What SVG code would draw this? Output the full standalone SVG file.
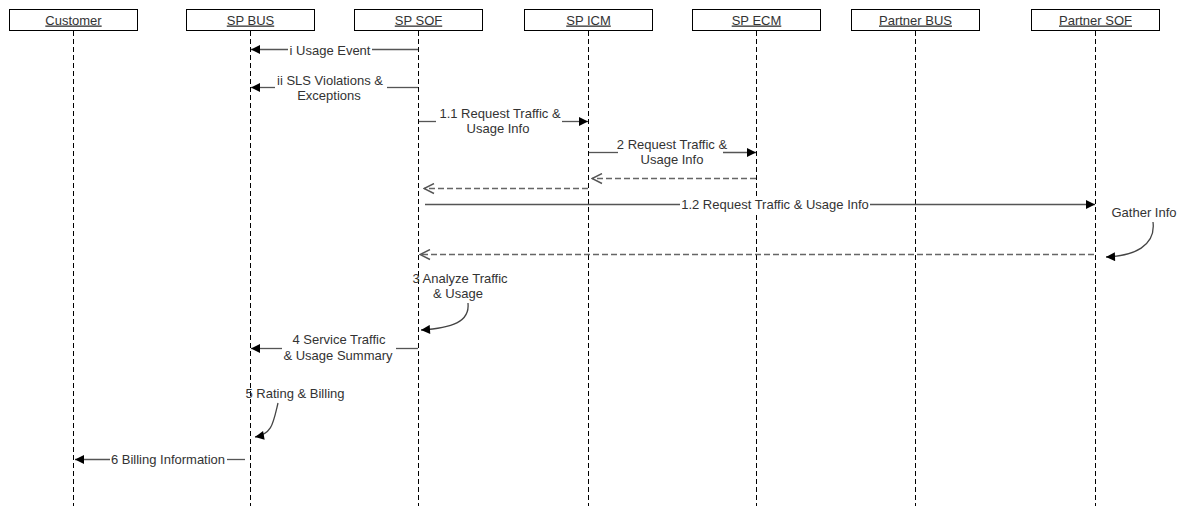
<svg xmlns="http://www.w3.org/2000/svg" width="1184" height="508" viewBox="0 0 1184 508">
<style>
.hdr{fill:#fff;stroke:#000;stroke-width:1}
.ht{font-family:"Liberation Sans",Arial,sans-serif;font-size:13px;fill:#333;text-anchor:middle;text-decoration:underline}
.life{stroke:#000;stroke-width:1;stroke-dasharray:5,3;fill:none}
.t{font-family:"Liberation Sans",Arial,sans-serif;font-size:13px;fill:#333;text-anchor:middle}
.msg{stroke:#555;stroke-width:1.3;fill:none}
.ret{stroke:#666;stroke-width:1.3;fill:none;stroke-dasharray:6,3}
.crv{stroke:#444;stroke-width:1.3;fill:none}
</style>
<defs>
<marker id="block" viewBox="0 0 10 10" refX="10" refY="5" markerWidth="10" markerHeight="9" markerUnits="userSpaceOnUse" orient="auto"><path d="M0,0 L10,5 L0,10 z" fill="#000"/></marker>
<marker id="open" viewBox="0 0 12 12" refX="11" refY="6" markerWidth="12" markerHeight="12" markerUnits="userSpaceOnUse" orient="auto"><path d="M1,1 L11,6 L1,11" fill="none" stroke="#555" stroke-width="1.4"/></marker>
</defs>
<rect width="1184" height="508" fill="#fff"/>

<g id="customer"><rect class="hdr" x="9.5" y="9.5" width="128" height="21"/><text class="ht" x="73.5" y="24.5">Customer</text><line class="life" x1="73.5" y1="31" x2="73.5" y2="506"/></g>
<g id="sp-bus"><rect class="hdr" x="186.5" y="9.5" width="128" height="21"/><text class="ht" x="250.5" y="24.5">SP BUS</text><line class="life" x1="250.5" y1="31" x2="250.5" y2="506"/></g>
<g id="sp-sof"><rect class="hdr" x="354.5" y="9.5" width="128" height="21"/><text class="ht" x="418.5" y="24.5">SP SOF</text><line class="life" x1="418.5" y1="31" x2="418.5" y2="506"/></g>
<g id="sp-icm"><rect class="hdr" x="524.5" y="9.5" width="128" height="21"/><text class="ht" x="588.5" y="24.5">SP ICM</text><line class="life" x1="588.5" y1="31" x2="588.5" y2="506"/></g>
<g id="sp-ecm"><rect class="hdr" x="692.5" y="9.5" width="128" height="21"/><text class="ht" x="756.5" y="24.5">SP ECM</text><line class="life" x1="756.5" y1="31" x2="756.5" y2="506"/></g>
<g id="partner-bus"><rect class="hdr" x="851.5" y="9.5" width="128" height="21"/><text class="ht" x="915.5" y="24.5">Partner BUS</text><line class="life" x1="915.5" y1="31" x2="915.5" y2="506"/></g>
<g id="partner-sof"><rect class="hdr" x="1031.5" y="9.5" width="128" height="21"/><text class="ht" x="1095.5" y="24.5">Partner SOF</text><line class="life" x1="1095.5" y1="31" x2="1095.5" y2="506"/></g>

<g id="connectors">
<line class="msg" x1="418" y1="49.5" x2="372" y2="49.5"/><line class="msg" x1="288" y1="49.5" x2="251" y2="49.5" marker-end="url(#block)"/>
<line class="msg" x1="418" y1="87.5" x2="387" y2="87.5"/><line class="msg" x1="275" y1="87.5" x2="251" y2="87.5" marker-end="url(#block)"/>
<line class="msg" x1="419" y1="121.5" x2="436" y2="121.5"/><line class="msg" x1="562" y1="121.5" x2="588" y2="121.5" marker-end="url(#block)"/>
<line class="msg" x1="589" y1="152.5" x2="618" y2="152.5"/><line class="msg" x1="723" y1="152.5" x2="756" y2="152.5" marker-end="url(#block)"/>
<line class="ret" x1="756" y1="178.5" x2="592" y2="178.5" marker-end="url(#open)"/>
<line class="ret" x1="588" y1="188.5" x2="424" y2="188.5" marker-end="url(#open)"/>
<line class="msg" x1="425" y1="204.5" x2="680" y2="204.5"/><line class="msg" x1="870" y1="204.5" x2="1095" y2="204.5" marker-end="url(#block)"/>
<path class="crv" d="M1153,222 C1156,246 1134,256 1106,257" marker-end="url(#block)"/>
<line class="ret" x1="1094" y1="254.5" x2="420" y2="254.5" marker-end="url(#open)"/>
<path class="crv" d="M468,303 C470,322 452,328 421,330" marker-end="url(#block)"/>
<line class="msg" x1="418" y1="348.5" x2="396" y2="348.5"/><line class="msg" x1="282" y1="348.5" x2="251" y2="348.5" marker-end="url(#block)"/>
<path class="crv" d="M278,403 C273,424 272,434 255,437" marker-end="url(#block)"/>
<line class="msg" x1="245" y1="459.5" x2="227" y2="459.5"/><line class="msg" x1="110" y1="459.5" x2="75" y2="459.5" marker-end="url(#block)"/>
</g>

<g id="labels">
<text class="t" x="330" y="54.5">i Usage Event</text>
<text class="t" x="330" y="84.5">ii SLS Violations &amp;</text>
<text class="t" x="329" y="99.5">Exceptions</text>
<text class="t" x="500" y="117.5">1.1 Request Traffic &amp;</text>
<text class="t" x="498" y="132.5">Usage Info</text>
<text class="t" x="672" y="148.5">2 Request Traffic &amp;</text>
<text class="t" x="672" y="163.5">Usage Info</text>
<rect x="681" y="196" width="188" height="16" fill="#fff"/>
<text class="t" x="775" y="208.5">1.2 Request Traffic &amp; Usage Info</text>
<text class="t" x="1144" y="216.5">Gather Info</text>
<text class="t" x="460" y="282.5">3 Analyze Traffic</text>
<text class="t" x="458" y="297.5">&amp; Usage</text>
<text class="t" x="339" y="343.5">4 Service Traffic</text>
<text class="t" x="338" y="359.5">&amp; Usage Summary</text>
<text class="t" x="295" y="397.5">5 Rating &amp; Billing</text>
<text class="t" x="168" y="463.5">6 Billing Information</text>
</g>
</svg>
